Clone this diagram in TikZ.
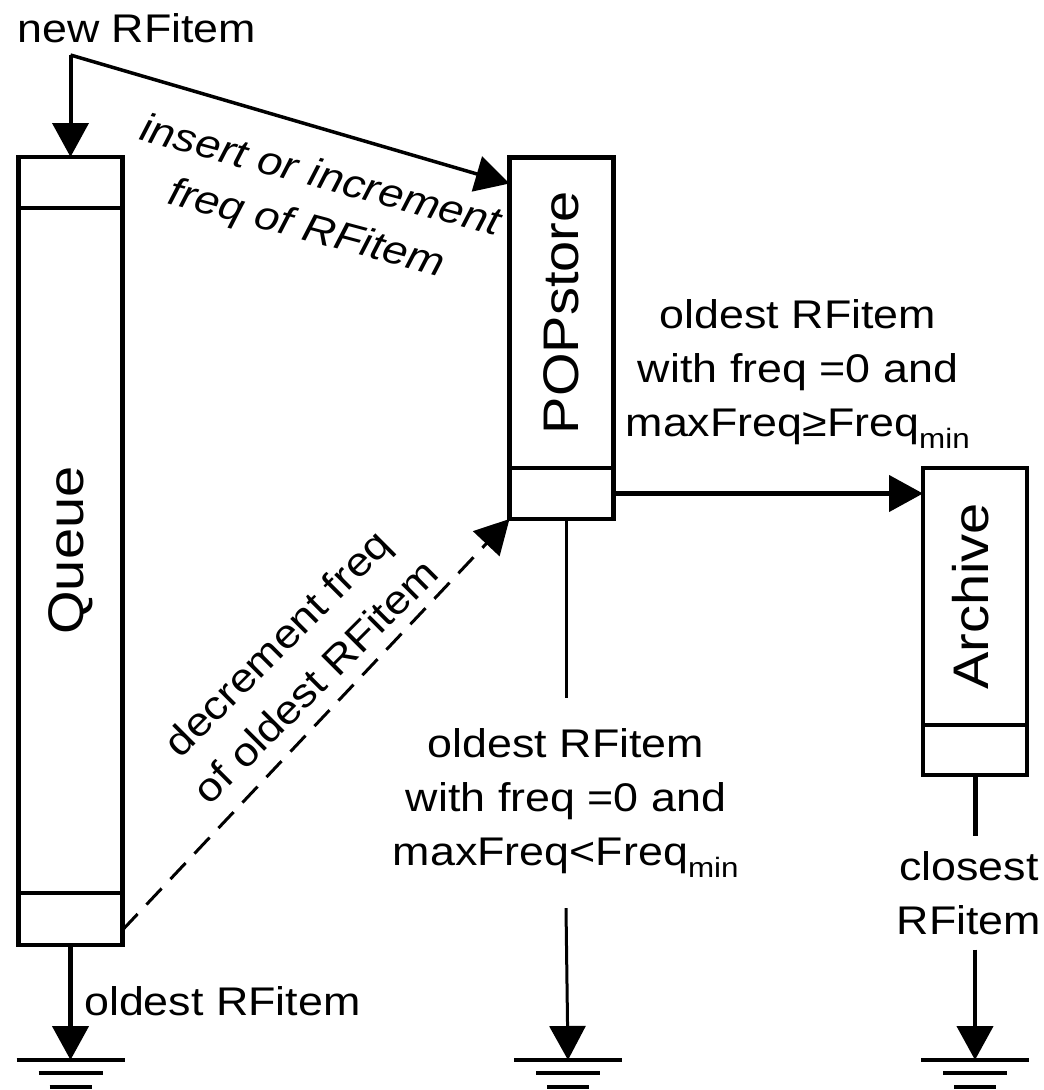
\documentclass[tikz,border=0pt]{standalone}
\usepackage{fontspec}
\setmainfont{Liberation Sans}[FakeStretch=1.12]
\usetikzlibrary{arrows.meta}

\tikzset{
  cell/.style={draw, line width=4.5pt, inner sep=0pt, outer sep=0pt, minimum width=104pt},
  note/.style={inner sep=0pt, align=center, font=\fontsize{40}{54}\selectfont},
  boxname/.style={rotate=90, inner sep=0pt, font=\fontsize{50}{60}\selectfont},
  heavy/.style={line width=4.5pt},
  light/.style={line width=3pt},
  arrowed/.style={-{Triangle[length=34pt,width=36pt]}},
}
\newcommand{\earth}[1]{%
  \draw[line width=4pt, shift={(#1)}] (-54,0) -- (54,0) (-32,13) -- (32,13) (-21,27) -- (21,27);}

\begin{document}
\begin{tikzpicture}[x=1pt, y=-1pt]
	\useasboundingbox (0,0) rectangle (1044,1090);
	% queue
	\node[cell, minimum height=51pt] (qtop) at (70.5,182.5) {};
	\node[cell, minimum height=685pt] (queue) at (70.5,550.5) {};
	\node[cell, minimum height=52pt] (qbot) at (70.5,919) {};
	\node[boxname] (queuetext) at (queue) {Queue};
	% POPstore
	\node[cell, minimum height=310.5pt] (popbody) at (561.5,312.75) {};
	\node[cell, minimum height=51pt] (popslot) at (561.5,493.5) {};
	\node[boxname] (poptext) at (popbody) {POPstore};
	% archive
	\node[cell, minimum height=257pt] (archbody) at (975,596.5) {};
	\node[cell, minimum height=50pt] (archslot) at (975,750) {};
	\node[boxname] (archtext) at ([xshift=-4pt]archbody.center) {Archive};

	\node[note, anchor=base west] (newitem) at (17,42) {new RFitem};
	\coordinate (fork) at (70.5,55);
	\draw[line width=4pt, arrowed] (fork) -- (qtop.north);
	\draw[line width=3.5pt, arrowed] (fork) -- ([yshift=-26pt]popbody.north west);
	\node[note, font=\fontsize{40}{54}\selectfont\itshape, rotate=-15] (inserttext) at (313,204) {insert or increment\\freq of RFitem};

	\draw[light, dash pattern=on 22pt off 13pt, arrowed] ([yshift=-11pt]qbot.east) -- (popslot.south west);
	\node[note, rotate=45] (decrtext) at (296,662) {decrement freq\\of oldest RFitem};

	\draw[heavy, arrowed] (popslot.east) -- (popslot.east -| archbody.west);
	\node[note] (keepnote) at (798,374) {oldest RFitem\\with freq =0 and\\maxFreq≥Freq\textsubscript{min}};

	\node[note, minimum height=210pt] (dropnote) at (566,803) {oldest RFitem\\with freq =0 and\\maxFreq<Freq\textsubscript{min}};
	\coordinate (gpop) at (568,1060);
	\draw[light] (popslot.south -| dropnote) -- (dropnote.north);
	\draw[light, arrowed] (dropnote.south) -- (gpop);

	\node[note, minimum height=113pt] (closenote) at (969,893) {closest\\RFitem};
	\coordinate (garch) at (975,1060);
	\draw[line width=5pt] (archslot.south) -- (archslot.south |- closenote.north);
	\draw[heavy, arrowed] (garch |- closenote.south) -- (garch);

	\coordinate (gqueue) at (70.5,1060);
	\draw[heavy, arrowed] (qbot.south) -- (gqueue);
	\node[note, anchor=base west] (oldnote) at (84,1015) {oldest RFitem};

	\earth{gqueue}
	\earth{gpop}
	\earth{garch}
\end{tikzpicture}
\end{document}
